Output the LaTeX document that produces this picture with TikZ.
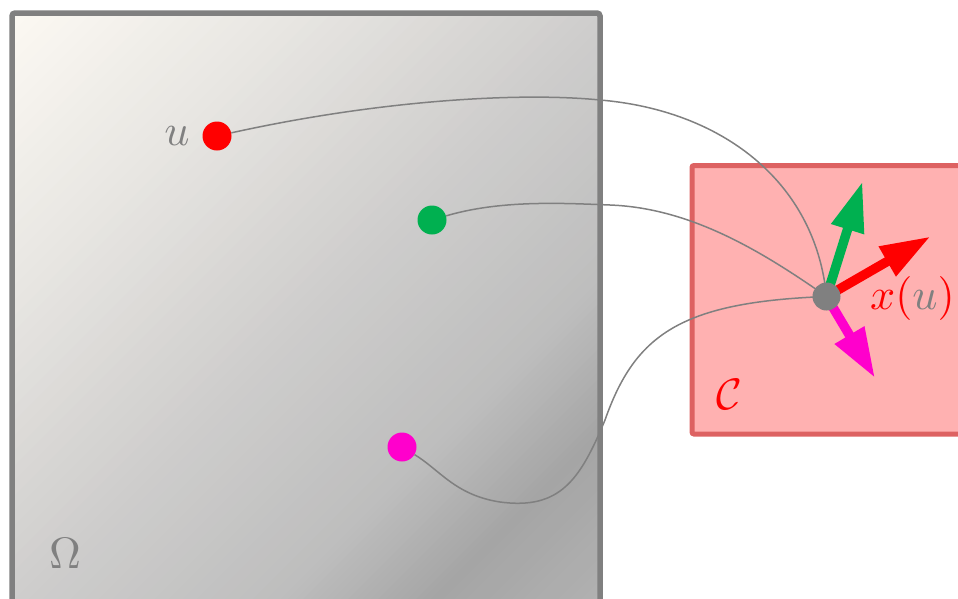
\documentclass[tikz,border=0pt]{standalone}
\usepackage{graphicx}
\usetikzlibrary{arrows.meta}
\definecolor{omgray}{RGB}{128,128,128}
\definecolor{ored}{RGB}{255,0,0}
\definecolor{ogreen}{RGB}{0,176,80}
\definecolor{omag}{RGB}{255,0,204}
\definecolor{cfill}{RGB}{255,177,177}
\definecolor{cborder}{RGB}{221,98,98}
\definecolor{sg0}{RGB}{253,250,244}
\definecolor{sg1}{RGB}{232,230,226}
\definecolor{sg2}{RGB}{207,206,205}
\definecolor{sg3}{RGB}{189,189,189}
\definecolor{sg4}{RGB}{165,165,165}
\definecolor{sg5}{RGB}{182,182,182}
\newcommand\lblbig[1]{\scalebox{4.4}{#1}}
\begin{document}
\begin{tikzpicture}[x=1pt,y=-1pt,
  dot/.style={circle,inner sep=0pt,minimum size=29pt},
  link/.style={draw=omgray,line width=1.5pt},
  vec/.style={line width=9.5pt,-{Triangle[length=50pt,width=32pt]}},
  lbl/.style={inner sep=0pt}]
\path[use as bounding box] (0,0) rectangle (958,598);
\clip (0,0) rectangle (958,598);
% Omega box with diagonal gradient
\begin{scope}
  \clip (12,13) rectangle (600,650);
  \foreach \ta/\tb/\ca/\cb in {0/300/sg0/sg1, 300/600/sg1/sg2, 600/880/sg2/sg3, 880/1030/sg3/sg4, 1030/1260/sg4/sg5} {
    \foreach \i in {0,...,19} {
      \pgfmathsetmacro\ts{\ta+(\tb-\ta)*\i/20}
      \pgfmathsetmacro\ww{(\tb-\ta)/20+3}
      \pgfmathsetmacro\pp{100*\i/20}
      \fill[\cb!\pp!\ca] (\ts,0) -- ++(\ww,0) -- ++(-1300,1300) -- ++(-\ww,0) -- cycle;
    }
  }
\end{scope}
\draw[line width=5.5pt,omgray,rounded corners=3pt] (12,13) rectangle (600,650);
% C box
\draw[fill=cfill,draw=cborder,line width=5pt,rounded corners=2pt] (692,165.5) rectangle (990,434);
% labels
\node[lbl,text=omgray] (ulabel) at (177,136) {\lblbig{$u$}};
\node[lbl,text=omgray] (omega) at (65,553) {\lblbig{$\Omega$}};
\node[lbl,text=ored] (clabel) at (729,394) {\lblbig{$\mathcal{C}$}};
\node[lbl,anchor=west] (xlabel) at (870,298) {\lblbig{$\color{ored}x(\color{omgray}u\color{ored})$}};
% points
\node[dot,fill=ored] (u) at (217,136) {};
\node[dot,fill=ogreen] (g) at (432,220) {};
\node[dot,fill=omag] (m) at (402,447) {};
\coordinate (xc) at (826.5,296.5);
\coordinate (rt) at (930.5,236.5);
\coordinate (gt) at (862.5,181.5);
\coordinate (mt) at (875,378);
% curves
\draw[link] (u) .. controls (380,100) and (520,92) .. (600,100) .. controls (720,110) and (815,180) .. (xc);
\draw[link] (g) .. controls (500,200) and (560,203) .. (610,205) .. controls (690,208) and (760,250) .. (xc);
\draw[link] (m) .. controls (440,470) and (455,495) .. (500,502) .. controls (560,510) and (580,480) .. (605,420) .. controls (635,335) and (680,302) .. (xc);
% vectors
\draw[vec,ored] (xc) -- (rt);
\draw[vec,ogreen] (xc) -- (gt);
\draw[vec,omag] (xc) -- (mt);
\node[dot,fill=omgray,minimum size=28pt] (x) at (xc) {};
\end{tikzpicture}
\end{document}
